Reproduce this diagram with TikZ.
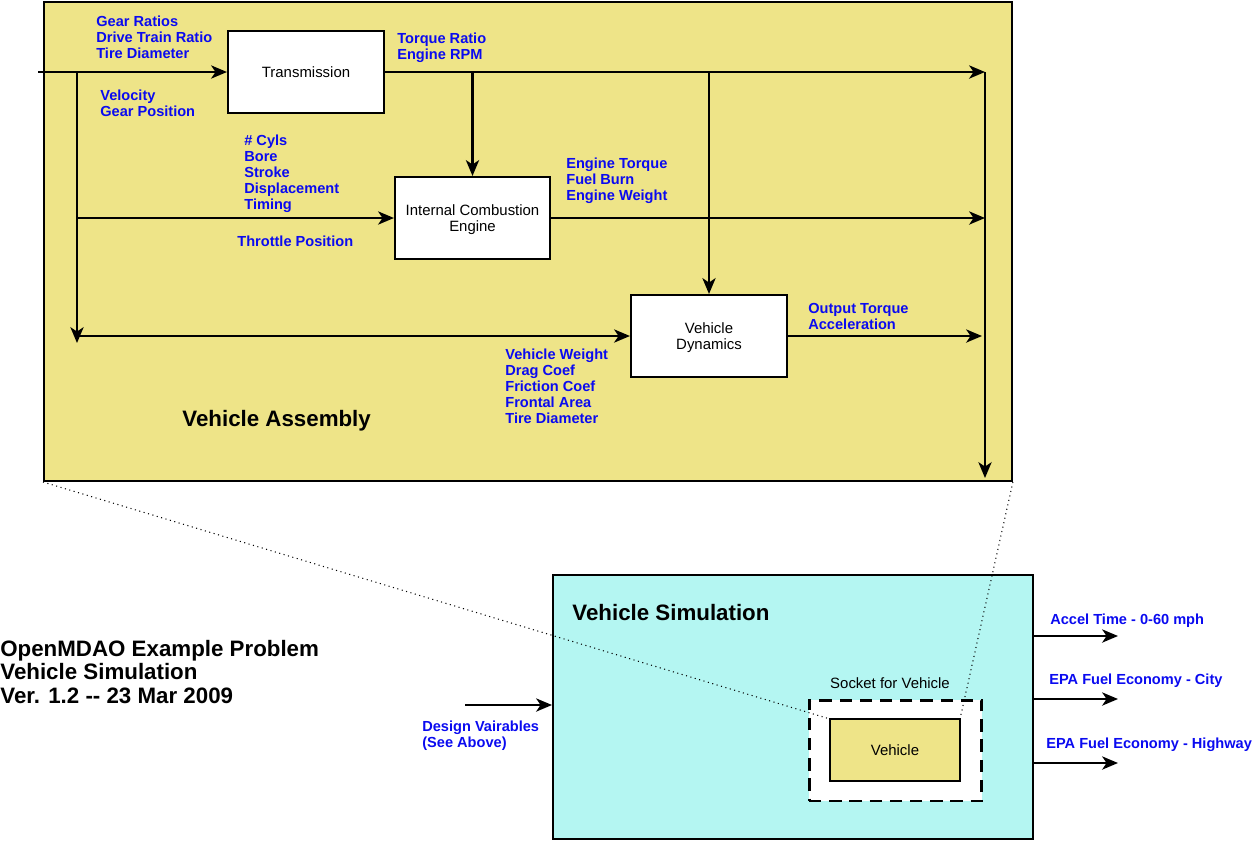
\documentclass[tikz,border=0pt]{standalone}
\usepackage{fontspec}
\setmainfont{Liberation Sans}
\usetikzlibrary{arrows.meta}
\definecolor{assyyellow}{RGB}{238,228,136}
\definecolor{simcyan}{RGB}{180,246,242}
\definecolor{lblblue}{RGB}{10,10,240}
\begin{document}
\begin{tikzpicture}[x=0.02cm, y=-0.02cm, >={Stealth[length=9pt,width=7.5pt,inset=2.5pt]},
  every node/.style={font=\fontsize{8.5}{9.2}\selectfont},
  block/.style={draw,line width=1.2pt,fill=white,align=center,minimum width=3.12cm,minimum height=1.64cm,text depth=-7pt},
  lbl/.style={font=\fontsize{8.3}{9.1}\selectfont\bfseries,text=lblblue,align=left,anchor=west,inner sep=0pt},
  flow/.style={->,line width=1.3pt},
  heading/.style={font=\fontsize{12.7}{13.4}\selectfont\bfseries,align=left,anchor=west,inner sep=0pt}]
  \useasboundingbox (0,0) rectangle (1259,840);
  % vehicle assembly frame
  \node[draw,line width=1.2pt,fill=assyyellow,minimum width=19.36cm,minimum height=9.58cm,anchor=north west,inner sep=0pt] (assy) at (43,1) {};
  \node[heading] (assytitle) at (182,421) {Vehicle Assembly};
  % components
  \node[block] (trans) at (306,72) {Transmission};
  \node[block,minimum width=3.1cm] (ice) at (472.5,218) {Internal Combustion\\Engine};
  \node[block] (dyn) at (709,336) {Vehicle\\Dynamics};
  % junctions
  \coordinate (in) at (38,72);
  \coordinate (split) at (77,72);
  \coordinate (splitend) at (77,343);
  \coordinate (sumtop) at (985,72);
  \coordinate (sumend) at (985,478);
  % data flow
  \draw[flow] (in) -- (trans);
  \draw[flow] (split) -- (splitend);
  \draw[flow] (split |- ice) -- (ice);
  \draw[flow] (split |- dyn) -- (dyn);
  \draw[flow] (trans) -- (sumtop);
  \draw[flow] (ice |- trans) -- (ice);
  \draw[flow] (dyn |- trans) -- (dyn);
  \draw[flow] (ice) -- (ice -| sumtop);
  \draw[flow] (dyn) -- ([xshift=-0.06cm]dyn -| sumtop);
  \draw[flow] (sumtop) -- (sumend);
  % variable labels
  \node[lbl] (transin) at (96,37) {Gear Ratios\\Drive Train Ratio\\Tire Diameter};
  \node[lbl] (velin) at (100,103) {Velocity\\Gear Position};
  \node[lbl] (transout) at (397,48) {Torque Ratio\\Engine RPM};
  \node[lbl] (icein) at (244,174) {\# Cyls\\Bore\\Stroke\\Displacement\\Timing};
  \node[lbl] (throttle) at (237,241) {Throttle Position};
  \node[lbl] (iceout) at (566,181) {Engine Torque\\Fuel Burn\\Engine Weight};
  \node[lbl] (dynout) at (808,316) {Output Torque\\Acceleration};
  \node[lbl] (dynin) at (505,386) {Vehicle Weight\\Drag Coef\\Friction Coef\\Frontal Area\\Tire Diameter};
  % vehicle simulation
  \node[draw,line width=1.2pt,fill=simcyan,minimum width=9.6cm,minimum height=5.28cm,anchor=north west,inner sep=0pt] (sim) at (552,574) {};
  \node[heading] (simtitle) at (572,613) {Vehicle Simulation};
  \node[draw,fill=white,line width=1.7pt,dash pattern=on 7pt off 4.5pt,minimum width=3.46cm,minimum height=2.02cm] (socket) at (895.5,750.5) {};
  \node (socketlbl) at (890,683) {Socket for Vehicle};
  \draw[dotted,line width=0.6pt] (assy.south west) -- (830,719);
  \draw[dotted,line width=0.6pt] (assy.south east) -- (960,719);
  \node[block,fill=assyyellow,minimum width=2.6cm,minimum height=1.24cm] (veh) at (895,750) {Vehicle};
  % inputs and outputs
  \coordinate (dvin) at (465,705);
  \draw[flow] (dvin) -- (dvin -| sim.west);
  \node[lbl] (dvlbl) at (422,736) {Design Vairables\\(See Above)};
  \coordinate (accel) at (1118,636);
  \coordinate (city) at (1118,699);
  \coordinate (hwy) at (1118,763);
  \draw[flow] (accel -| sim.east) -- (accel);
  \draw[flow] (city -| sim.east) -- (city);
  \draw[flow] (hwy -| sim.east) -- (hwy);
  \node[lbl] (accellbl) at (1050,621) {Accel Time - 0-60 mph};
  \node[lbl] (citylbl) at (1049,681) {EPA Fuel Economy - City};
  \node[lbl] (hwylbl) at (1046,745) {EPA Fuel Economy - Highway};
  % problem title
  \node[heading] (title) at (0,672) {OpenMDAO Example Problem\\Vehicle Simulation\\Ver. 1.2 -{}- 23 Mar 2009};
\end{tikzpicture}
\end{document}
